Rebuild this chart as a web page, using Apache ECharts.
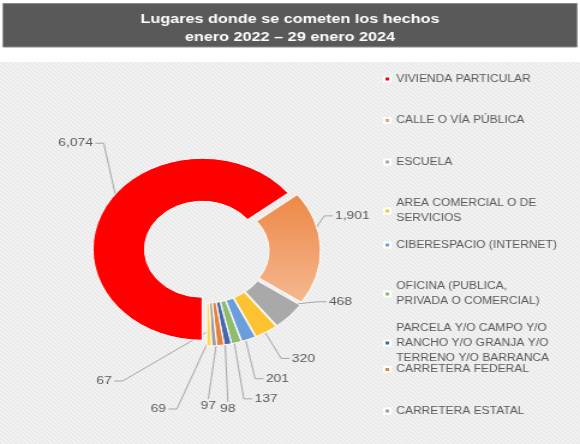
<!DOCTYPE html>
<html>
<head>
<meta charset="utf-8">
<script src="https://cdn.jsdelivr.net/npm/echarts@6/dist/echarts.min.js"></script>
<style>
  html, body { margin: 0; padding: 0; background: #fff; }
  #wrap { width: 580px; height: 444px; overflow: hidden; }
  /* el original viene estirado a lo ancho: se dibuja más angosto y se escala */
  #main { width: 483px; height: 444px; transform: scaleX(1.2008); transform-origin: 0 0; }
</style>
</head>
<body>
<div id="wrap"><div id="main"></div></div>
<script>
const lugares = [
  "VIVIENDA PARTICULAR",
  "CALLE O VÍA PÚBLICA",
  "ESCUELA",
  "AREA COMERCIAL O DE SERVICIOS",
  "CIBERESPACIO (INTERNET)",
  "OFICINA (PUBLICA, PRIVADA O COMERCIAL)",
  "PARCELA Y/O CAMPO Y/O RANCHO Y/O GRANJA Y/O TERRENO Y/O BARRANCA",
  "CARRETERA FEDERAL",
  "CARRETERA ESTATAL",
  "OTROS"
];
// como se ve la leyenda (cortes de línea del original)
const etiquetasLeyenda = [
  "VIVIENDA PARTICULAR",
  "CALLE O VÍA PÚBLICA",
  "ESCUELA",
  "AREA COMERCIAL O DE\nSERVICIOS",
  "CIBERESPACIO (INTERNET)",
  "OFICINA (PUBLICA,\nPRIVADA O COMERCIAL)",
  "PARCELA Y/O CAMPO Y/O\nRANCHO Y/O GRANJA Y/O\nTERRENO Y/O BARRANCA",
  "CARRETERA FEDERAL",
  "CARRETERA ESTATAL"
];
const casos = [6074, 1901, 468, 320, 201, 137, 98, 97, 69, 67];
const colores = ["#ff0000", "#ed8846", "#a9a9a9", "#fcc22f", "#6b9fdb", "#8fbb6e", "#4267b0", "#e67f3b", "#9c9c9c", "#ffd650"];
const colorCalleClaro = "#f5b890";
const titulo = "Lugares donde se cometen los hechos\nenero 2022 – 29 enero 2024";

// codo de cada línea guía, relativo al centro del anillo, y lado del texto
const guias = [
  [-82, -106, "izq"], [94, -35, "der"], [90, 48, "der"], [60, 104, "der"], [39, 124, "der"],
  [30, 144, "der"], [17, 147, "abajo"], [1, 144, "abajo"], [-25, 154, "izq"], [-70, 126, "izq"]
];
const centro = [172, 251];
const inicioAngulo = 270;

// ángulo medio de cada rebanada, para arrancar la línea guía dentro de ella
const total = casos.reduce((a, b) => a + b, 0);
let acumulado = 0;
const angulosMedios = casos.map((v) => {
  const m = inicioAngulo - (360 * (acumulado + v / 2)) / total;
  acumulado += v;
  return (m * Math.PI) / 180;
});

// fondo rayado como en el original
const trama = document.createElement("canvas");
trama.width = 4;
trama.height = 4;
const tctx = trama.getContext("2d");
tctx.fillStyle = "#ebebeb";
tctx.fillRect(0, 0, 4, 4);
tctx.strokeStyle = "#f8f8f8";
tctx.lineWidth = 1;
tctx.beginPath();
tctx.moveTo(0, 0);
tctx.lineTo(4, 4);
tctx.stroke();

const chart = echarts.init(document.getElementById("main"));

const data = lugares.map((n, i) => {
  let color = colores[i];
  if (i === 1) {
    color = new echarts.graphic.LinearGradient(0, 0, 0, 1, [
      { offset: 0, color: colores[1] },
      { offset: 1, color: colorCalleClaro },
    ]);
  }
  return { name: n, value: casos[i], selected: true, itemStyle: { color: color } };
});

// una leyenda por renglón para dejar el mismo paso que en el original
const leyendas = etiquetasLeyenda.map((txt, i) => {
  const lineas = txt.split("\n").length;
  const yIcono = 77.5 + i * 41.5;
  return {
    orient: "vertical",
    left: 319,
    top: yIcono - 7.5 * lineas + 1.5,
    padding: 0,
    data: [lugares[i]],
    icon: "rect",
    itemWidth: 5,
    itemHeight: 5,
    selectedMode: false,
    formatter: () => txt,
    textStyle: {
      color: "#595959",
      fontFamily: "Liberation Sans",
      fontSize: 10,
      lineHeight: 15,
      padding: [15 * (lineas - 1), 0, 0, 0],
      backgroundColor: "rgba(0,0,0,0)",
    },
  };
});

const option = {
  animation: false,
  title: {
    text: titulo,
    left: "center",
    top: 5,
    textStyle: {
      color: "#ffffff",
      fontFamily: "Liberation Sans",
      fontWeight: "bold",
      fontSize: 13.5,
      lineHeight: 18.5,
    },
  },
  graphic: [
    {
      type: "rect",
      z: -10,
      shape: { x: 0, y: 62, width: 483, height: 382 },
      style: { fill: { image: trama, repeat: "repeat" } },
    },
    {
      type: "rect",
      z: -5,
      shape: { x: 2.5, y: 3.5, width: 478, height: 43.5 },
      style: { fill: "#595959", stroke: "#8a8a8a", lineWidth: 1 },
    },
  ],
  legend: leyendas,
  series: [
    {
      type: "pie",
      center: centro,
      radius: [48, 91],
      startAngle: inicioAngulo,
      clockwise: true,
      selectedMode: "multiple",
      selectedOffset: 4,
      avoidLabelOverlap: false,
      itemStyle: { borderColor: "#ffffff", borderWidth: 1 },
      label: {
        color: "#595959",
        fontFamily: "Liberation Sans",
        fontSize: 11.5,
        formatter: (p) => p.value.toLocaleString("en-US"),
      },
      labelLine: {
        show: true,
        lineStyle: { color: "#a6a6a6", width: 1 },
      },
      labelLayout: (params) => {
        const i = params.dataIndex;
        const g = guias[i];
        const r = params.labelRect;
        const a = angulosMedios[i];
        const inicio = [centro[0] + Math.cos(a) * 76, centro[1] - Math.sin(a) * 76];
        const codo = [centro[0] + g[0], centro[1] + g[1]];
        if (g[2] === "abajo") {
          return {
            dx: codo[0] - (r.x + r.width / 2),
            dy: codo[1] + 1 - r.y,
            labelLinePoints: [inicio, [(inicio[0] + codo[0]) / 2, (inicio[1] + codo[1]) / 2], codo],
          };
        }
        const s = g[2] === "der" ? 1 : -1;
        const xTexto = s > 0 ? codo[0] + 9 : codo[0] - 9 - r.width;
        return {
          dx: xTexto - r.x,
          dy: codo[1] - (r.y + r.height / 2),
          labelLinePoints: [inicio, codo, [codo[0] + s * 7, codo[1]]],
        };
      },
      emphasis: { disabled: true },
      data: data,
    },
  ],
};

chart.setOption(option);
</script>
</body>
</html>
